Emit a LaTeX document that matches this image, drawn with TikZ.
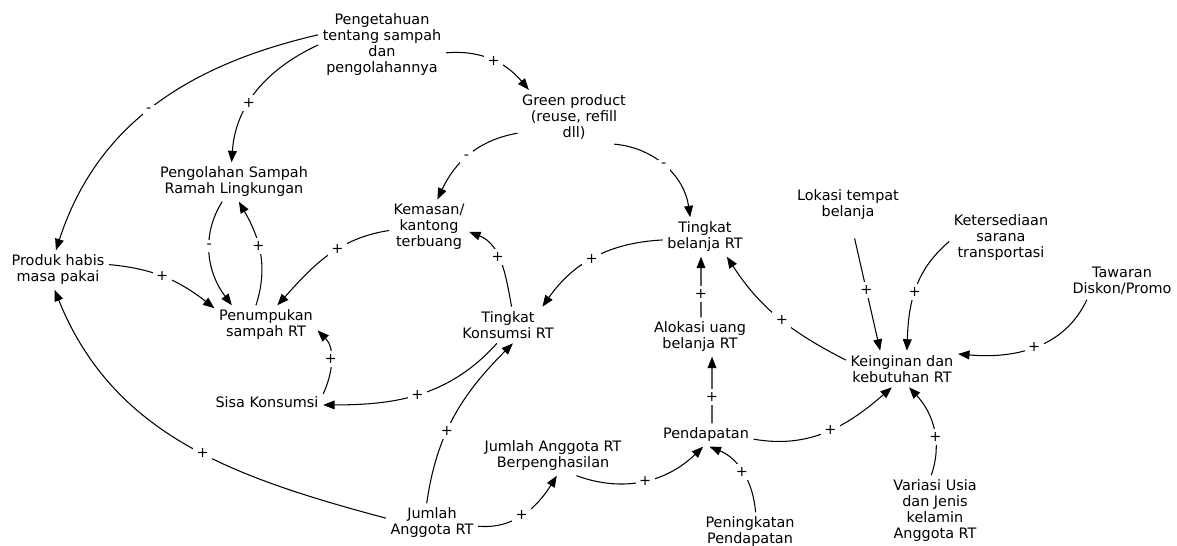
\documentclass[tikz,border=0pt]{standalone}
\usepackage{fontspec}
\setmainfont{DejaVu Sans}
\usetikzlibrary{arrows.meta}

\begin{document}
\begin{tikzpicture}[x=0.02cm,y=0.02cm,
    var/.style={align=center,inner sep=2.5pt,font=\fontsize{8.2}{9.1}\selectfont},
    link/.style={-{Triangle[length=6.5pt,width=5pt]},line width=0.6pt},
    pol/.style={fill=white,inner sep=2pt,font=\fontsize{8.2}{9.1}\selectfont}]
    \useasboundingbox (0,0) rectangle (1177,-546);

    \node[var] (know) at (382,-45) {Pengetahuan\\tentang sampah\\dan\\pengolahannya};
    \node[var] (green) at (574,-117) {Green product\\(reuse, refill\\dll)};
    \node[var] (olah) at (234,-182) {Pengolahan Sampah\\Ramah Lingkungan};
    \node[var] (kemasan) at (429,-227) {Kemasan/\\kantong\\terbuang};
    \node[var] (belanja) at (705,-237) {Tingkat\\belanja RT};
    \node[var] (produk) at (58,-270) {Produk habis\\masa pakai};
    \node[var] (tumpuk) at (266,-325) {Penumpukan\\sampah RT};
    \node[var] (konsumsi) at (508,-325) {Tingkat\\Konsumsi RT};
    \node[var] (alokasi) at (700,-337) {Alokasi uang\\belanja RT};
    \node[var] (lokasi) at (848,-205) {Lokasi tempat\\belanja};
    \node[var] (sarana) at (1001,-238) {Ketersediaan\\sarana\\transportasi};
    \node[var] (diskon) at (1122,-281) {Tawaran\\Diskon/Promo};
    \node[var] (keinginan) at (902,-369) {Keinginan dan\\kebutuhan RT};
    \node[var] (sisa) at (267,-402) {Sisa Konsumsi};
    \node[var] (pendapatan) at (706,-435) {Pendapatan};
    \node[var] (berpeng) at (553,-456) {Jumlah Anggota RT\\Berpenghasilan};
    \node[var] (jumlah) at (432,-523) {Jumlah\\Anggota RT};
    \node[var] (naik) at (750,-532) {Peningkatan\\Pendapatan};
    \node[var] (variasi) at (935,-511) {Variasi Usia\\dan Jenis\\kelamin\\Anggota RT};

    \draw[link] (know.171) to[out=193,in=72] node[pol,pos=.52] {-} (produk.96);
    \draw[link] (know.180) to[out=205,in=86] node[pol,pos=.6] {+} (olah.97);
    \draw[link] (know.-7) to[out=5,in=130] node[pol,pos=.52] {+} (green.149);
    \draw[link] (green.196) to[out=190,in=65] node[pol,pos=.53] {-} (kemasan.73);
    \draw[link] (green.-34) to[out=-5,in=98] node[pol,pos=.48] {-} (belanja.127);
    \draw[link] (olah.239) to[out=238,in=127] node[pol,pos=.42] {-} (tumpuk.150);
    \draw[link] (tumpuk.117) to[out=72,in=-60] node[pol,pos=.56] {+} (olah.-76);
    \draw[link] (kemasan.185) to[out=189,in=48] node[pol,pos=.4] {+} (tumpuk.60);
    \draw[link] (produk.6) to[out=-5,in=142] node[pol,pos=.47] {+} (tumpuk.162);
    \draw[link] (konsumsi.79) to[out=100,in=-21] node[pol,pos=.56] {+} (kemasan.-7);
    \draw[link] (belanja.184) to[out=183,in=55] node[pol,pos=.52] {+} (konsumsi.28);
    \draw[link] (sisa.8) to[out=66,in=-45] node[pol,pos=.52] {+} (tumpuk.-6);
    \draw[link] (konsumsi.239) to[out=228,in=0] node[pol,pos=.51] {+} (sisa.-3);
    \draw[link] (jumlah.174) to[out=165,in=-68] node[pol,pos=.45] {+} (produk.260);
    \draw[link] (jumlah.105) to[out=82,in=225] node[pol,pos=.4] {+} (konsumsi.-75);
    \draw[link] (jumlah.-4) to[out=-5,in=238] node[pol,pos=.47] {+} (berpeng.-79);
    \draw[link] (berpeng.-40) to[out=-20,in=224] node[pol,pos=.51] {+} (pendapatan.256);
    \draw[link] (naik.74) to[out=95,in=-22] node[pol,pos=.51] {+} (pendapatan.-73);
    \draw[link] ([xshift=0.12cm]pendapatan.north) -- node[pol,pos=.4] {+} ([xshift=0.24cm]alokasi.south);
    \draw[link] ([xshift=0.02cm]alokasi.north) -- node[pol,pos=.38] {+} ([xshift=-0.08cm]belanja.south);
    \draw[link] (keinginan.171) to[out=153,in=-57] node[pol,pos=.47] {+} (belanja.-42);
    \draw[link] (pendapatan.-5) to[out=-10,in=221] node[pol,pos=.52] {+} (keinginan.241);
    \draw[link] (variasi.96) to[out=71,in=-47] node[pol,pos=.4] {+} (keinginan.-69);
    \draw[link,shorten <=0.28cm] (lokasi.-80) -- node[pol,pos=.52] {+} (keinginan.140);
    \draw[link] (sarana.184) to[out=220,in=88] node[pol,pos=.52] {+} (keinginan.75);
    \draw[link] (diskon.208) to[out=245,in=-5] node[pol,pos=.5] {+} (keinginan.15);
\end{tikzpicture}
\end{document}
